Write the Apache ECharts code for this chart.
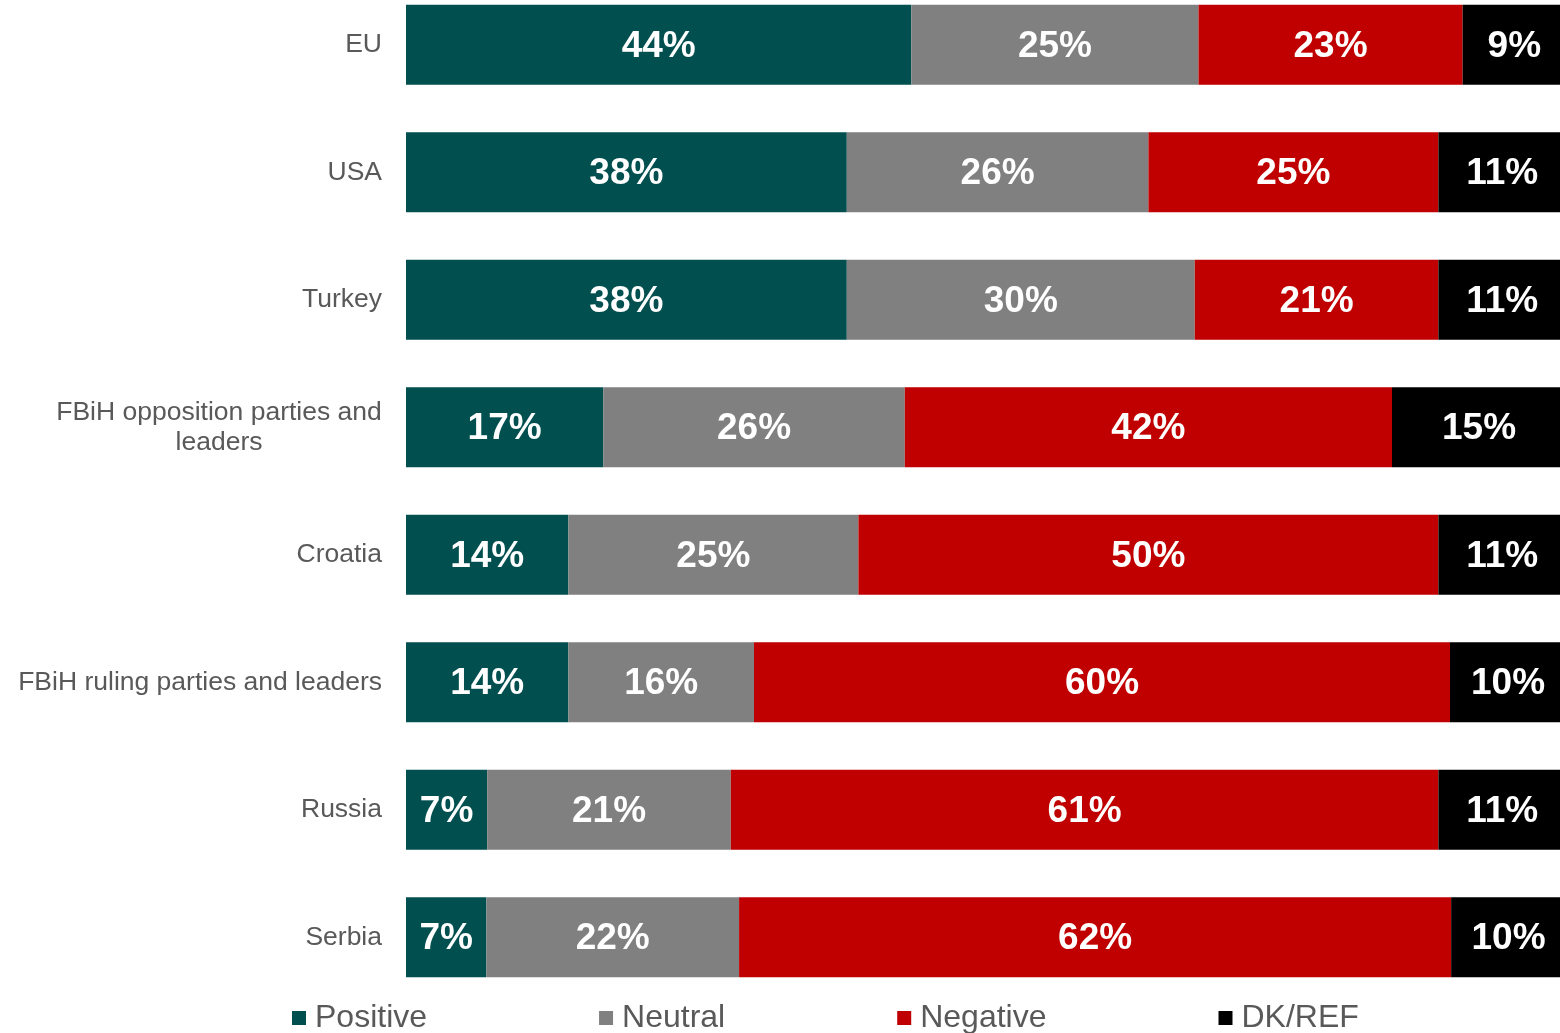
<!DOCTYPE html>
<html>
<head>
<meta charset="utf-8">
<script src="https://cdn.jsdelivr.net/npm/echarts@6/dist/echarts.min.js"></script>
<style>
html,body{margin:0;padding:0;background:#fff;overflow:hidden;width:1560px;height:1033px;}
#chart{position:absolute;left:0;top:-19px;width:1566px;height:1052px;}
</style>
</head>
<body>
<div id="chart"></div>
<script>
const categories = ["EU", "USA", "Turkey", "FBiH opposition parties and\nleaders", "Croatia", "FBiH ruling parties and leaders", "Russia", "Serbia"];
const positive = [44, 38, 38, 17, 14, 14, 7, 7];
const neutral  = [25, 26, 30, 26, 25, 16, 21, 22];
const negative = [23, 25, 21, 42, 50, 60, 61, 62];
const dkref    = [9, 11, 11, 15, 11, 10, 11, 10];

const seriesNames = ["Positive", "Neutral", "Negative", "DK/REF"];
const seriesValues = [positive, neutral, negative, dkref];
const colors = ["#024F50", "#808080", "#C00000", "#000000"];

const totals = categories.map((_, i) => seriesValues.reduce((s, arr) => s + arr[i], 0));

const font = "'Liberation Sans', Arial, sans-serif";

const series = seriesNames.map((name, k) => ({
  name: name,
  type: "bar",
  stack: "total",
  barWidth: 80,
  itemStyle: { color: colors[k] },
  label: {
    show: true,
    position: "inside",
    offset: [0, 2],
    color: "#fff",
    fontFamily: font,
    fontWeight: "bold",
    fontSize: 37,
    formatter: (p) => seriesValues[k][p.dataIndex] + "%"
  },
  data: seriesValues[k].map((v, i) => v / totals[i] * 100)
}));

const chart = echarts.init(document.getElementById("chart"));
chart.setOption({
  animation: false,
  backgroundColor: "#fff",
  legend: {
    data: seriesNames,
    left: 287,
    top: 1016,
    itemGap: 172,
    itemWidth: 14,
    itemHeight: 14,
    icon: "rect",
    textStyle: { fontFamily: font, fontSize: 32, color: "#595959", padding: [0, 0, 0, 4] }
  },
  grid: { left: 406, right: 0, top: 0, bottom: 32, containLabel: false },
  xAxis: {
    type: "value",
    min: 0,
    max: 100,
    show: false
  },
  yAxis: {
    type: "category",
    inverse: true,
    data: categories,
    axisLine: { show: false },
    axisTick: { show: false },
    splitLine: { show: false },
    axisLabel: {
      margin: 24,
      fontFamily: font,
      fontSize: 26.5,
      color: "#595959",
      lineHeight: 30,
      align: "right",
      formatter: (v) => v.indexOf("\n") >= 0
        ? v.split("\n").map(s => "{c|" + s + "}").join("\n")
        : v,
      rich: {
        c: { width: 326, align: "center", fontFamily: font, fontSize: 26.5, color: "#595959", lineHeight: 30 }
      }
    }
  },
  series: series
});
</script>
</body>
</html>
